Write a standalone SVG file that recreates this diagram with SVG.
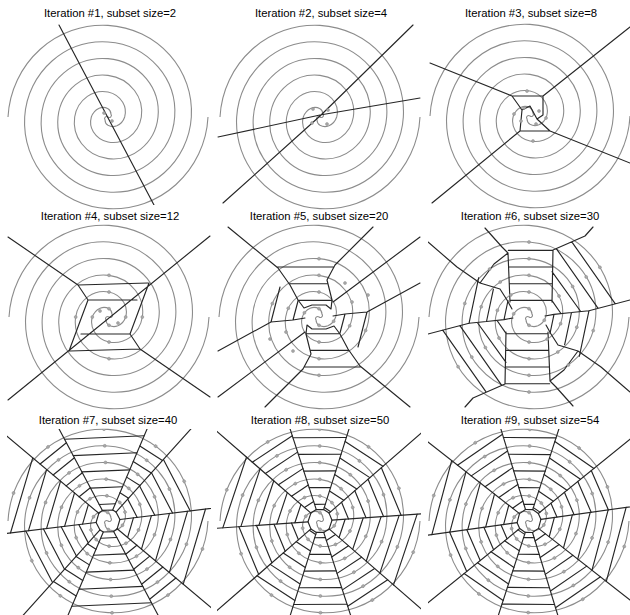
<svg xmlns="http://www.w3.org/2000/svg" width="630" height="615" viewBox="0 0 630 615">
<style>
.sp{fill:none;stroke:#8c8c8c;stroke-width:1.1}
.vl{fill:none;stroke:#262626;stroke-width:1.15;stroke-linejoin:round;stroke-linecap:round}
.dt{fill:#a8a8a8;stroke:#8a8a8a;stroke-width:0.5}
.tt{font-family:"Liberation Sans",Arial,sans-serif;font-size:11.3px;fill:#000;text-anchor:middle}
</style>
<defs>
<path id="arm" class="sp" d="M0,0 A2.1,2.1 0 0 0 2.95,-2.95 A6.25,6.25 0 0 0 0,-8.33 A10.4,10.4 0 0 0 -8.84,-8.84 A14.6,14.6 0 0 0 -16.67,0 A18.75,18.75 0 0 0 -14.73,14.73 A22.9,22.9 0 0 0 0,25 A27.1,27.1 0 0 0 20.62,20.62 A31.25,31.25 0 0 0 33.33,0 A35.4,35.4 0 0 0 26.52,-26.52 A39.6,39.6 0 0 0 0,-41.67 A43.75,43.75 0 0 0 -32.41,-32.41 A47.9,47.9 0 0 0 -50,0 A52.1,52.1 0 0 0 -38.3,38.3 A56.25,56.25 0 0 0 0,58.33 A60.4,60.4 0 0 0 44.19,44.19 A64.6,64.6 0 0 0 66.67,0 A68.75,68.75 0 0 0 50.08,-50.08 A72.9,72.9 0 0 0 0,-75 A77.1,77.1 0 0 0 -55.98,-55.98 A81.25,81.25 0 0 0 -83.33,0 A85.4,85.4 0 0 0 -61.87,61.87 A89.6,89.6 0 0 0 0,91.67 A93.75,93.75 0 0 0 67.77,67.77 A97.9,97.9 0 0 0 100,0"/>
<g id="spiral"><use href="#arm"/><use href="#arm" transform="rotate(180)"/></g>
<clipPath id="c1"><rect x="7" y="24" width="204" height="181"/></clipPath>
<clipPath id="c2"><rect x="217" y="24" width="204" height="181"/></clipPath>
<clipPath id="c3"><rect x="428" y="24" width="202" height="181"/></clipPath>
<clipPath id="c4"><rect x="7" y="226" width="204" height="182"/></clipPath>
<clipPath id="c5"><rect x="217" y="226" width="204" height="182"/></clipPath>
<clipPath id="c6"><rect x="428" y="226" width="202" height="182"/></clipPath>
<clipPath id="c7"><rect x="7" y="429" width="204" height="186"/></clipPath>
<clipPath id="c8"><rect x="217" y="429" width="204" height="186"/></clipPath>
<clipPath id="c9"><rect x="428" y="429" width="202" height="186"/></clipPath>
</defs>

<g id="panel1">
<text class="tt" x="110" y="17">Iteration #1, subset size=2</text>
<use href="#spiral" transform="translate(108,117)"/>
<g id="lines1" clip-path="url(#c1)"><path class="vl" d="M59,25 L154,205"/></g>
<g class="dt"><circle cx="104" cy="113" r="1.5"/><circle cx="112" cy="121" r="1.5"/></g>
</g>

<g id="panel2">
<text class="tt" x="321" y="17">Iteration #2, subset size=4</text>
<use href="#spiral" transform="translate(320,117)"/>
<g id="lines2" clip-path="url(#c2)"><path class="vl" d="M223,203 L320,116 L413,25 M218,137 L320,115 L420,98"/></g>
<g class="dt"><circle cx="313" cy="109" r="1.5"/><circle cx="328" cy="110" r="1.5"/><circle cx="312" cy="123" r="1.5"/><circle cx="327" cy="124" r="1.5"/></g>
</g>

<g id="panel3">
<text class="tt" x="531" y="17">Iteration #3, subset size=8</text>
<use href="#spiral" transform="translate(530,116)"/>
<g id="lines3" clip-path="url(#c3)"><path class="vl" d="M430,63 L512,96 L543,96 L630,27 M543,96 L543,115 L537,119 L550,131 M512,96 L522,110 L520,131 M432,203 L520,131 L550,131 L630,163 M522,110 L530,106 L537,119"/></g>
<g class="dt"><circle cx="527" cy="91" r="1.5"/><circle cx="533" cy="141" r="1.5"/><circle cx="514" cy="114" r="1.5"/><circle cx="546" cy="118" r="1.5"/><circle cx="524" cy="108" r="1.5"/><circle cx="536" cy="124" r="1.5"/><circle cx="521" cy="121" r="1.5"/><circle cx="539" cy="111" r="1.5"/></g>
</g>

<g id="panel4">
<text class="tt" x="110" y="220">Iteration #4, subset size=12</text>
<use href="#spiral" transform="translate(109,317)"/>
<g id="lines4" clip-path="url(#c4)"><path class="vl" d="M8,237 L78,285 L148,283 M88,300 L137,300 M78,285 L88,300 L69,351 M210,397 L140,349 L70,351 M130,334 L81,334 M140,349 L130,334 L149,283 M8,400 L210,236"/></g>
<g class="dt"><circle cx="109" cy="275.3" r="1.5"/><circle cx="109" cy="292" r="1.5"/><circle cx="109" cy="308.7" r="1.5"/><circle cx="109" cy="358.7" r="1.5"/><circle cx="109" cy="342" r="1.5"/><circle cx="109" cy="325.3" r="1.5"/><circle cx="75.7" cy="317" r="1.5"/><circle cx="92.3" cy="317" r="1.5"/><circle cx="142.3" cy="317" r="1.5"/><circle cx="125.7" cy="317" r="1.5"/><circle cx="100" cy="311" r="1.5"/><circle cx="118" cy="323" r="1.5"/></g>
</g>

<g id="panel5">
<text class="tt" x="319" y="220">Iteration #5, subset size=20</text>
<use href="#spiral" transform="translate(319,317)"/>
<g id="lines5" clip-path="url(#c5)">
<g id="h5">
<path class="vl" d="M228,227 L278,268 L290,285 L298,300 L304,308 M373,227 L335,265 L327,280 L332,300 L331,309 M420,237 L333,302 M420,283 L367,312 L345,314 L333,316 M298,300.3 H332 M289,283.7 H328 M277,267 H334 M367,312 L358,347 M345,314 L340,333 M304,308 L312,305 L326,305 L331,309"/>
<g class="dt"><circle cx="319" cy="308.7" r="1.5"/><circle cx="319" cy="292" r="1.5"/><circle cx="319" cy="275.3" r="1.5"/><circle cx="319" cy="258.7" r="1.5"/><circle cx="333.6" cy="321.2" r="1.5"/><circle cx="349.7" cy="325.8" r="1.5"/><circle cx="365.6" cy="330.4" r="1.5"/><circle cx="345" cy="283" r="1.5"/><circle cx="352" cy="302" r="1.5"/><circle cx="368" cy="295" r="1.5"/></g>
</g>
<use href="#h5" transform="rotate(180 319 317)"/>
</g>
</g>

<g id="panel6">
<text class="tt" x="530" y="220">Iteration #6, subset size=30</text>
<use href="#spiral" transform="translate(529,317)"/>
<g id="lines6" clip-path="url(#c6)">
<g id="h6">
<path class="vl" d="M428,242 L457,267 L480,283 L500,289 L507,300 L512,309 M480,283 L494,264 L508,253 M485,228 L502,247 L508,253 L510,302 M510,300.3 H552 M509.5,283.7 H552 M509,267 H553 M508.3,250.3 H553 M593,227 L585,236 L553,250 L552,302 M552,300.7 L560.6,313 M552,271.6 L580.7,311.5 M556.3,248.6 L598.1,308.3 M571.8,241.8 L615.3,303.8 M630,300 L589,310.7 L571.5,312.5 L554,314.4 L545,316 M554,314.4 L550,333.5 M571.5,312.5 L564.6,344.8 M589,310.7 L579.3,356.3"/>
<g class="dt"><circle cx="529" cy="308.7" r="1.5"/><circle cx="529" cy="292" r="1.5"/><circle cx="529" cy="275.3" r="1.5"/><circle cx="529" cy="258.7" r="1.5"/><circle cx="529" cy="242" r="1.5"/><circle cx="544.3" cy="320.2" r="1.5"/><circle cx="560.6" cy="323.7" r="1.5"/><circle cx="576.8" cy="327.2" r="1.5"/><circle cx="593.2" cy="330.6" r="1.5"/><circle cx="559" cy="296" r="1.5"/><circle cx="572.6" cy="286.5" r="1.5"/><circle cx="586.2" cy="276.9" r="1.5"/><circle cx="599.9" cy="267.3" r="1.5"/><circle cx="510.8" cy="294.9" r="1.5"/><circle cx="500.2" cy="282" r="1.5"/><circle cx="489.6" cy="269.1" r="1.5"/></g>
</g>
<use href="#h6" transform="rotate(180 529 317)"/>
</g>
</g>

<g id="panel7">
<text class="tt" x="108" y="424">Iteration #7, subset size=40</text>
<use href="#spiral" transform="translate(108,521)"/>
<g id="lines7" clip-path="url(#c7)">
<g id="h7">
<g transform="translate(108,521)">
<path class="vl" d="M-9.2,-7.7 L-5.6,-10.6 L4.7,-11 L8,-8.9 L11.9,-1.5 L9.2,7.7"/>
<path class="vl" transform="rotate(-140)" d="M12,0H230"/>
<path class="vl" transform="rotate(-118)" d="M12,0H230"/>
<path class="vl" transform="rotate(-67)" d="M12,0H230"/>
<path class="vl" transform="rotate(-48)" d="M12,0H230"/>
<path class="vl" transform="rotate(-7)" d="M12,0H230"/>
</g>
<g transform="translate(108,521) rotate(-129)"><path class="vl" d="M37,-7.2V7.2M53.6,-10.4V10.4M70.3,-13.7V13.7M87,-16.9V16.9"/><g class="dt"><circle cx="28.6" cy="0" r="1.5"/><circle cx="45.3" cy="0" r="1.5"/><circle cx="61.9" cy="0" r="1.5"/><circle cx="78.6" cy="0" r="1.5"/><circle cx="95.3" cy="0" r="1.5"/></g></g>
<g transform="translate(108,521) rotate(-92.5)"><path class="vl" d="M16.9,-8.1V8.1M33.6,-16V16M50.2,-24V24M66.9,-31.9V31.9M83.6,-39.9V39.9"/><g class="dt"><circle cx="8.6" cy="0" r="1.5"/><circle cx="25.2" cy="0" r="1.5"/><circle cx="41.9" cy="0" r="1.5"/><circle cx="58.6" cy="0" r="1.5"/><circle cx="75.2" cy="0" r="1.5"/><circle cx="91.9" cy="0" r="1.5"/></g></g>
<g transform="translate(108,521) rotate(-57.5)"><path class="vl" d="M30.3,-5.1V5.1M47,-7.9V7.9M63.7,-10.7V10.7M80.3,-13.4V13.4"/><g class="dt"><circle cx="22" cy="0" r="1.5"/><circle cx="38.7" cy="0" r="1.5"/><circle cx="55.3" cy="0" r="1.5"/><circle cx="72" cy="0" r="1.5"/><circle cx="88.7" cy="0" r="1.5"/></g></g>
<g transform="translate(108,521) rotate(-27.5)"><path class="vl" d="M27.6,-10.3V10.3M44.2,-16.5V16.5M60.9,-22.8V22.8M77.6,-29V29"/><g class="dt"><circle cx="19.2" cy="0" r="1.5"/><circle cx="35.9" cy="0" r="1.5"/><circle cx="52.5" cy="0" r="1.5"/><circle cx="69.2" cy="0" r="1.5"/><circle cx="85.9" cy="0" r="1.5"/></g></g>
<g transform="translate(108,521) rotate(16.5)"><path class="vl" d="M23.5,-10.2V10.2M40.1,-17.5V17.5M56.8,-24.7V24.7M73.5,-31.9V31.9M90.1,-39.2V39.2"/><g class="dt"><circle cx="15.1" cy="0" r="1.5"/><circle cx="31.8" cy="0" r="1.5"/><circle cx="48.5" cy="0" r="1.5"/><circle cx="65.1" cy="0" r="1.5"/><circle cx="81.8" cy="0" r="1.5"/><circle cx="98.5" cy="0" r="1.5"/></g></g>
</g>
<use href="#h7" transform="rotate(180 108 521)"/>
</g>
</g>

<g id="panel8">
<text class="tt" x="320" y="424">Iteration #8, subset size=50</text>
<use href="#spiral" transform="translate(320,521)"/>
<g id="lines8" clip-path="url(#c8)">
<g id="h8">
<g transform="translate(320,521)">
<path class="vl" d="M-3.7,-11.4 L3.6,-11.4 L9.1,-7.9 L12,-0.8 L9.1,7.9 L3.7,11.4"/>
<path class="vl" transform="rotate(-108)" d="M12,0H230"/>
<path class="vl" transform="rotate(-72.5)" d="M12,0H230"/>
<path class="vl" transform="rotate(-41)" d="M12,0H230"/>
<path class="vl" transform="rotate(-4)" d="M12,0H230"/>
<path class="vl" transform="rotate(41)" d="M12,0H230"/>
</g>
<g transform="translate(320,521) rotate(-90.25)"><path class="vl" d="M16.7,-5.3V5.3M33.4,-10.7V10.7M50,-16V16M66.7,-21.3V21.3M83.4,-26.7V26.7"/><g class="dt"><circle cx="8.3" cy="0" r="1.5"/><circle cx="25" cy="0" r="1.5"/><circle cx="41.7" cy="0" r="1.5"/><circle cx="58.4" cy="0" r="1.5"/><circle cx="75" cy="0" r="1.5"/><circle cx="91.7" cy="0" r="1.5"/></g></g>
<g transform="translate(320,521) rotate(-56.75)"><path class="vl" d="M13.6,-3.8V3.8M30.3,-8.5V8.5M46.9,-13.2V13.2M63.6,-17.9V17.9M80.3,-22.6V22.6"/><g class="dt"><circle cx="21.9" cy="0" r="1.5"/><circle cx="38.6" cy="0" r="1.5"/><circle cx="55.3" cy="0" r="1.5"/><circle cx="71.9" cy="0" r="1.5"/><circle cx="88.6" cy="0" r="1.5"/></g></g>
<g transform="translate(320,521) rotate(-22.5)"><path class="vl" d="M27.1,-9.1V9.1M43.75,-14.6V14.6M60.4,-20.2V20.2M77.1,-25.8V25.8"/><g class="dt"><circle cx="18.75" cy="0" r="1.5"/><circle cx="35.4" cy="0" r="1.5"/><circle cx="52.1" cy="0" r="1.5"/><circle cx="68.75" cy="0" r="1.5"/><circle cx="85.4" cy="0" r="1.5"/></g></g>
<g transform="translate(320,521) rotate(18.5)"><path class="vl" d="M23.3,-9.6V9.6M40,-16.5V16.5M56.6,-23.5V23.5M73.3,-30.4V30.4M90,-37.3V37.3"/><g class="dt"><circle cx="15" cy="0" r="1.5"/><circle cx="31.6" cy="0" r="1.5"/><circle cx="48.3" cy="0" r="1.5"/><circle cx="65" cy="0" r="1.5"/><circle cx="81.6" cy="0" r="1.5"/><circle cx="98.3" cy="0" r="1.5"/></g></g>
<g transform="translate(320,521) rotate(56.5)"><path class="vl" d="M19.8,-5.5V5.5M36.4,-10.1V10.1M53.1,-14.7V14.7M69.8,-19.3V19.3M86.4,-24V24"/><g class="dt"><circle cx="28.1" cy="0" r="1.5"/><circle cx="44.8" cy="0" r="1.5"/><circle cx="61.4" cy="0" r="1.5"/><circle cx="78.1" cy="0" r="1.5"/><circle cx="94.8" cy="0" r="1.5"/></g></g>
</g>
<use href="#h8" transform="rotate(180 320 521)"/>
</g>
</g>

<g id="panel9">
<text class="tt" x="530" y="424">Iteration #9, subset size=54</text>
<use href="#spiral" transform="translate(529,521)"/>
<g id="lines9" clip-path="url(#c9)">
<g id="h9">
<g transform="translate(529,521)">
<path class="vl" d="M-3.5,-11.5 L3.7,-11.4 L9.3,-7.6 L11.9,-1.7 L9.5,7.4 L3.5,11.5"/>
<path class="vl" transform="rotate(-107)" d="M12,0H230"/>
<path class="vl" transform="rotate(-72)" d="M12,0H230"/>
<path class="vl" transform="rotate(-39)" d="M12,0H230"/>
<path class="vl" transform="rotate(-8)" d="M12,0H230"/>
<path class="vl" transform="rotate(38)" d="M12,0H230"/>
</g>
<g transform="translate(529,521) rotate(-89.5)"><path class="vl" d="M16.6,-5.2V5.2M33.3,-10.5V10.5M50,-15.8V15.8M66.6,-21V21M83.3,-26.3V26.3"/><g class="dt"><circle cx="8.3" cy="0" r="1.5"/><circle cx="25" cy="0" r="1.5"/><circle cx="41.6" cy="0" r="1.5"/><circle cx="58.3" cy="0" r="1.5"/><circle cx="75" cy="0" r="1.5"/><circle cx="91.6" cy="0" r="1.5"/></g></g>
<g transform="translate(529,521) rotate(-55.5)"><path class="vl" d="M13.5,-4V4M30.1,-8.9V8.9M46.8,-13.9V13.9M63.5,-18.8V18.8M80.1,-23.7V23.7"/><g class="dt"><circle cx="21.8" cy="0" r="1.5"/><circle cx="38.5" cy="0" r="1.5"/><circle cx="55.1" cy="0" r="1.5"/><circle cx="71.8" cy="0" r="1.5"/><circle cx="88.5" cy="0" r="1.5"/></g></g>
<g transform="translate(529,521) rotate(-23.5)"><path class="vl" d="M27.2,-7.5V7.5M43.9,-12.2V12.2M60.5,-16.8V16.8M77.2,-21.4V21.4"/><g class="dt"><circle cx="18.9" cy="0" r="1.5"/><circle cx="35.5" cy="0" r="1.5"/><circle cx="52.2" cy="0" r="1.5"/><circle cx="68.9" cy="0" r="1.5"/><circle cx="85.5" cy="0" r="1.5"/></g></g>
<g transform="translate(529,521) rotate(15)"><path class="vl" d="M23.6,-10V10M40.3,-17.1V17.1M56.9,-24.2V24.2M73.6,-31.2V31.2M90.3,-38.3V38.3"/><g class="dt"><circle cx="15.3" cy="0" r="1.5"/><circle cx="31.9" cy="0" r="1.5"/><circle cx="48.6" cy="0" r="1.5"/><circle cx="65.3" cy="0" r="1.5"/><circle cx="81.9" cy="0" r="1.5"/><circle cx="98.6" cy="0" r="1.5"/></g></g>
<g transform="translate(529,521) rotate(55.5)"><path class="vl" d="M19.9,-6.3V6.3M36.5,-11.5V11.5M53.2,-16.8V16.8M69.9,-22V22M86.5,-27.3V27.3"/><g class="dt"><circle cx="28.2" cy="0" r="1.5"/><circle cx="44.9" cy="0" r="1.5"/><circle cx="61.5" cy="0" r="1.5"/><circle cx="78.2" cy="0" r="1.5"/><circle cx="94.9" cy="0" r="1.5"/></g></g>
</g>
<use href="#h9" transform="rotate(180 529 521)"/>
</g>
</g>
</svg>
